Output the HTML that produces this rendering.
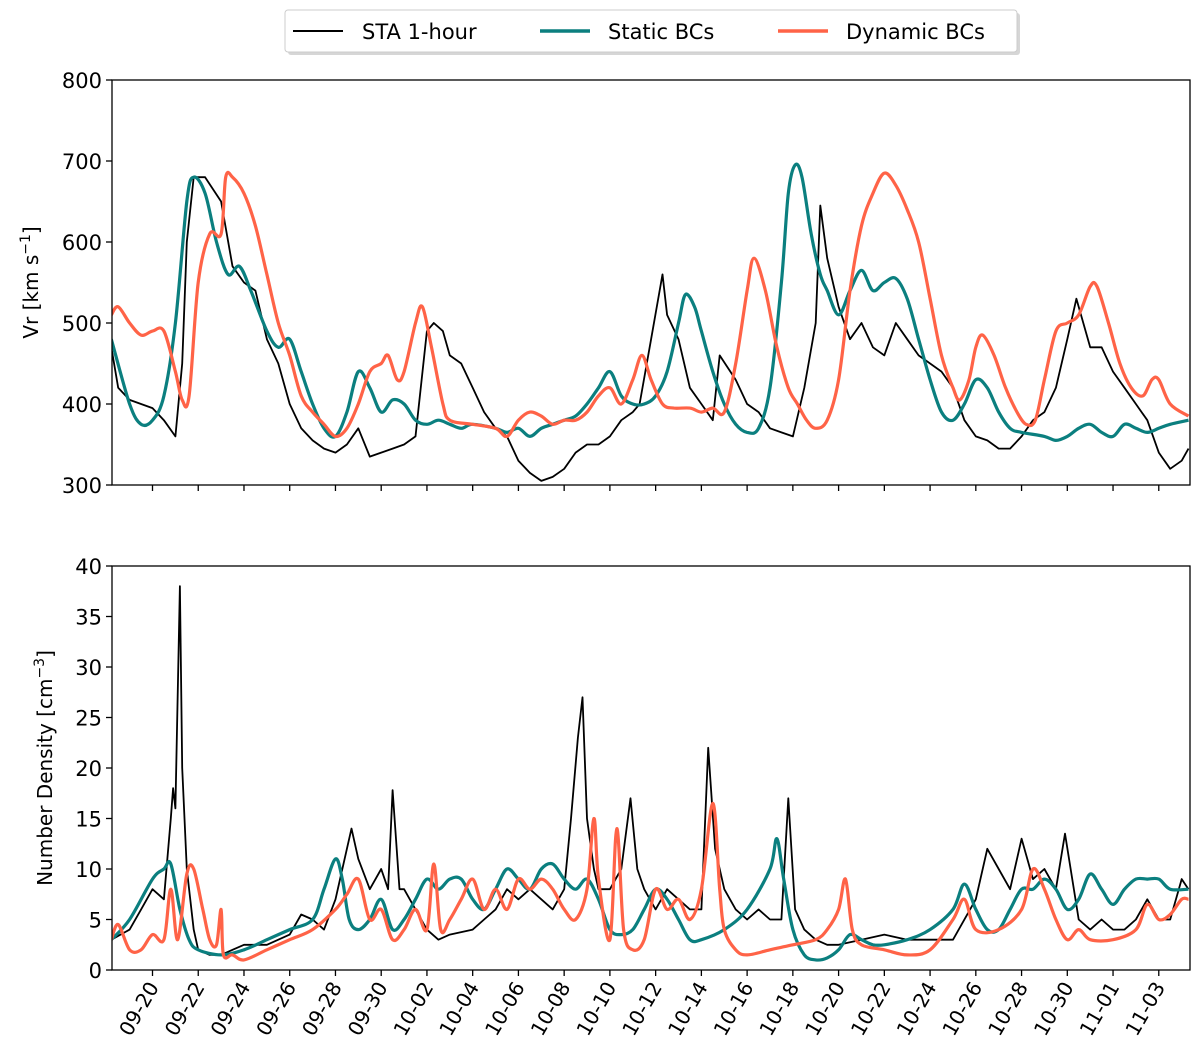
<!DOCTYPE html>
<html><head><meta charset="utf-8">
<style>
body{margin:0;background:#fff;}
svg{display:block;font-family:"DejaVu Sans","Liberation Sans",sans-serif;}
</style></head>
<body>
<svg id="chart" width="1200" height="1061" viewBox="0 0 1200 1061">
<g id="legend">
<rect x="288" y="13" width="732" height="42" rx="3" fill="#bbb" opacity="0.6"/>
<rect x="285" y="10" width="732" height="42" rx="3" fill="#fff" stroke="#ccc"/>
<g><line x1="293" y1="31" x2="343" y2="31" stroke="#000" stroke-width="2"/><text x="362" y="39" font-size="21">STA 1-hour</text></g>
<g><line x1="540" y1="31" x2="590" y2="31" stroke="#0b7f7f" stroke-width="3.5"/><text x="608" y="39" font-size="21">Static BCs</text></g>
<g><line x1="778" y1="31" x2="828" y2="31" stroke="#ff6347" stroke-width="3.5"/><text x="846" y="39" font-size="21">Dynamic BCs</text></g>
</g>
</svg>
<script>
// time in days since 09-20
const tickLabels=["09-20","09-22","09-24","09-26","09-28","09-30","10-02","10-04","10-06","10-08","10-10","10-12","10-14","10-16","10-18","10-20","10-22","10-24","10-26","10-28","10-30","11-01","11-03"];
const vrTicks=[300,400,500,600,700,800];
const ndTicks=[0,5,10,15,20,25,30,35,40];

const staVrT=[-1.8,-1.5,-1,0,0.5,1,1.3,1.5,1.8,2.3,3,3.5,4,4.5,5,5.5,6,6.5,7,7.5,8,8.5,9,9.5,10,10.5,11,11.5,12,12.3,12.7,13,13.5,14,14.5,15,15.5,16,16.5,17,17.5,18,18.5,19,19.5,20,20.5,21,21.3,21.8,22.3,22.5,23,23.5,24,24.5,24.8,25.5,26,26.5,27,27.5,28,28.5,29,29.2,29.5,30,30.5,31,31.5,32,32.5,33,33.5,34,34.5,35,35.5,36,36.5,37,37.5,38,38.5,39,39.5,40,40.4,41,41.5,42,42.5,43,43.5,44,44.5,45,45.3];
const staVr=[470,420,405,395,380,360,450,600,680,680,650,570,550,540,480,450,400,370,355,345,340,350,370,335,340,345,350,360,490,500,490,460,450,420,390,370,360,330,315,305,310,320,340,350,350,360,380,390,400,480,560,510,480,420,400,380,460,430,400,390,370,365,360,420,500,645,580,520,480,500,470,460,500,480,460,450,440,420,380,360,355,345,345,360,380,390,420,480,530,470,470,440,420,400,380,340,320,330,345];

const staticVrT=[-1.8,-1,-0.5,0,0.5,1,1.5,1.8,2.3,2.8,3.3,3.8,4.3,5,5.5,6,6.5,7,7.5,8,8.5,9,9.5,10,10.5,11,11.5,12,12.5,13,13.5,14,15,15.5,16,16.5,17,17.5,18,18.5,19,19.5,20,20.5,21,21.5,22,22.5,23,23.3,23.7,24,24.5,25,25.5,26,26.5,27,27.5,27.8,28.1,28.4,28.8,29.2,29.5,30,30.5,31,31.5,32,32.5,33,33.5,34,34.5,35,35.5,36,36.5,37,37.5,38,39,39.5,40,40.5,41,41.5,42,42.5,43,43.5,44,44.5,45.3];
const staticVr=[480,400,375,380,410,500,650,680,660,600,560,570,540,490,470,480,440,400,370,360,390,440,420,390,405,400,380,375,380,375,370,375,370,365,370,360,370,375,380,385,400,420,440,410,400,400,410,440,500,535,520,490,440,400,375,365,370,420,550,660,695,680,610,560,540,510,540,565,540,550,555,530,480,430,390,380,400,430,420,390,370,365,360,355,360,370,375,365,360,375,370,365,370,375,380];

const dynVrT=[-1.8,-1.5,-1,-0.5,0,0.5,1,1.3,1.6,2,2.5,3,3.2,3.5,4,4.5,5,5.5,6,6.5,7,7.5,8,8.5,9,9.5,10,10.3,10.7,11,11.5,11.8,12.2,12.7,13,14,15,15.5,16,16.5,17,17.5,18,18.5,19,19.5,20,20.5,21,21.4,21.8,22.3,22.8,23.5,24,24.5,25,25.5,26,26.3,26.8,27.3,27.8,28.2,28.6,29,29.5,30,30.5,31,31.5,32,32.5,33,33.5,34,34.5,35,35.3,35.7,36,36.3,36.8,37.3,37.8,38.2,38.6,39,39.5,40,40.5,41,41.3,41.8,42.3,42.8,43.3,43.7,44,44.5,45.3];
const dynVr=[510,520,500,485,490,490,440,405,410,550,610,610,680,680,660,620,560,500,460,410,390,375,360,370,400,440,450,460,430,440,500,520,470,400,380,375,370,360,380,390,385,375,380,380,390,410,420,400,430,460,430,400,395,395,390,395,390,450,540,580,540,470,420,400,380,370,380,430,540,620,660,685,670,640,600,530,460,420,405,430,470,485,460,420,390,375,380,430,490,500,510,545,545,500,450,420,410,430,430,400,385];

const staNdT=[-1.8,-1,-0.5,0,0.5,0.8,0.9,1,1.2,1.3,1.5,1.8,2,2.5,3,3.5,4,5,6,6.5,7,7.5,8,8.5,8.7,9,9.5,10,10.3,10.5,10.8,11,11.5,12,12.5,13,14,14.5,15,15.5,16,16.5,17,17.5,18,18.3,18.6,18.8,19,19.3,19.5,20,20.5,20.9,21.2,21.5,22,22.5,23,23.5,24,24.3,24.6,25,25.5,26,26.5,27,27.5,27.8,28.1,28.5,29,29.5,30,31,32,33,34,35,36,36.5,37,37.5,38,38.5,39,39.5,39.9,40.5,41,41.5,42,42.5,43,43.5,44,44.5,45,45.3];
const staNd=[3,4,6,8,7,15,18,16,38,20,10,4,2,1.5,1.5,2,2.5,2.5,3.5,5.5,5,4,7,12,14,11,8,10,8,17.8,8,8,6,4,3,3.5,4,5,6,8,7,8,7,6,8,15,23,27,15,10,8,8,10,17,10,8,6,8,7,6,6,22,12,8,6,5,6,5,5,17,6,4,3,2.5,2.5,3,3.5,3,3,3,7,12,10,8,13,9,10,8,13.5,5,4,5,4,4,5,7,5,5,9,8];

const staticNdT=[-1.8,-1,0,0.5,0.8,1.2,1.6,2,3,4,5,6,7,7.5,8,8.3,8.6,9,9.5,10,10.5,11,11.5,12,12.5,13,13.5,14,14.5,15,15.5,16,16.5,17,17.5,18,18.5,19,19.5,20,20.5,21,21.5,22,22.5,23,23.5,24,25,26,27,27.3,27.6,28,28.5,29,29.5,30,30.5,31,31.5,32,33,34,35,35.5,36,36.5,37,37.5,38,38.5,39,39.5,40,40.5,41,41.5,42,42.5,43,43.5,44,44.5,45.3];
const staticNd=[3,5,9,10,10.5,6,3,2,1.5,2,3,4,5,8,11,9,5,4,5,7,4,5,7,9,8,9,9,7,6,8,10,9,8,10,10.5,9,8,9,7,4,3.5,4,6,8,7,5,3,3,4,6,10,13,9,4,1.5,1,1.2,2,3.5,3,2.5,2.5,3,4,6,8.5,6,4,4,6,8,8,9,8,6,7,9.5,8,6.5,8,9,9,9,8,8];

const dynNdT=[-1.8,-1.5,-1,-0.5,0,0.5,0.8,1.1,1.5,1.8,2.2,2.5,2.8,3,3.1,3.5,4,5,6,7,8,8.5,9,9.5,10,10.5,11,11.5,12,12.3,12.6,13,13.5,14,14.5,15,15.5,16,16.5,17,17.5,18,18.5,19,19.3,19.5,20,20.3,20.6,21,21.5,22,22.5,23,23.5,24,24.5,24.8,25,25.5,26,27,28,29,29.5,30,30.3,30.6,31,32,33,34,35,35.5,36,37,38,38.5,39,39.5,40,40.5,41,42,43,43.5,44,44.5,45,45.3];
const dynNd=[3,4.5,2,2,3.5,3,8,3,9.5,10,6,3,2.5,6,1.5,1.5,1,2,3,4,6,7.5,9,5,6,3,4,6,4,10.5,4,5,7,9,6,8,6,9,8,9,8,6,5,8,15,9,3,14,4,2,3,8,6,7,5,8,16.5,8,4,2,1.5,2,2.5,3,4,6,9,4,2.5,2,1.5,2,5,7,4,4,6,10,8,5,3,4,3,3,4,6.5,5,5.5,7,7];

const NS="http://www.w3.org/2000/svg";
const svg=document.getElementById('chart');
const X0=112,X1=1190;
const xScale=t=>152.5+t*22.87;
const topY=v=>485-(v-300)*(405/500);
const botY=v=>970-v*(404/40);
function mk(tag,attrs,parent){const e=document.createElementNS(NS,tag);for(const k in attrs)e.setAttribute(k,attrs[k]);(parent||svg).appendChild(e);return e;}
function linePath(ts,vs,ys,smooth){
  const p=ts.map((t,i)=>[xScale(t),ys(vs[i])]);
  let d='M'+p[0][0].toFixed(1)+','+p[0][1].toFixed(1);
  for(let i=1;i<p.length;i++){
    if(!smooth){d+='L'+p[i][0].toFixed(1)+','+p[i][1].toFixed(1);continue;}
    const p0=p[i-2]||p[i-1],p1=p[i-1],p2=p[i],p3=p[i+1]||p[i];
    const c1=[p1[0]+(p2[0]-p0[0])/6,p1[1]+(p2[1]-p0[1])/6];
    const c2=[p2[0]-(p3[0]-p1[0])/6,p2[1]-(p3[1]-p1[1])/6];
    d+='C'+c1[0].toFixed(1)+','+c1[1].toFixed(1)+' '+c2[0].toFixed(1)+','+c2[1].toFixed(1)+' '+p2[0].toFixed(1)+','+p2[1].toFixed(1);
  }
  return d;
}
function panel(name,yTop,yBot,ys,ticks,ylabel,ylx,series,showLabels){
  const g=mk('g',{});
  
  
  const cid='clip-'+name;
  const cp=mk('clipPath',{id:cid},g);
  mk('rect',{x:X0,y:yTop,width:X1-X0,height:yBot-yTop},cp);
  const sg=mk('g',{'clip-path':'url(#'+cid+')'},g);
  series.forEach(s=>{
    const p=mk('path',{d:linePath(s.t,s.v,ys,s.smooth),fill:'none',stroke:s.color,'stroke-width':s.w,'stroke-linejoin':'round'},sg);
    
    
  });
  const frame=mk('rect',{x:X0,y:yTop,width:X1-X0,height:yBot-yTop,fill:'none',stroke:'#000','stroke-width':1.3},g);
  
  
  ticks.forEach(v=>{
    const y=ys(v);
    mk('line',{x1:X0-6,x2:X0,y1:y,y2:y,stroke:'#000','stroke-width':1.3},g);
    const tx=mk('text',{x:X0-10,y:y+8,'font-size':21,'text-anchor':'end'},g);
    tx.textContent=v;
    
    
  });
  tickLabels.forEach((lab,i)=>{
    const x=xScale(i*2);
    mk('line',{x1:x,x2:x,y1:yBot,y2:yBot+6,stroke:'#000','stroke-width':1.3},g);
    if(showLabels){
      const tx=mk('text',{x:0,y:0,'font-size':20,'text-anchor':'end',transform:'translate('+(x+7)+','+(yBot+17)+') rotate(-60)'},g);
      tx.textContent=lab;
      
      
    }
  });
  const yl=mk('text',{x:0,y:0,'font-size':20,'text-anchor':'middle',transform:'translate('+ylx+','+((yTop+yBot)/2)+') rotate(-90)'},g);
  yl.innerHTML=ylabel;
  
  
}
panel('velocity',80,485,topY,vrTicks,'Vr [km s<tspan dy="-8" font-size="14">−1</tspan><tspan dy="8">]</tspan>',38,[
 {name:'sta',t:staVrT,v:staVr,color:'#000',w:1.8,smooth:false},
 {name:'static',t:staticVrT,v:staticVr,color:'#0b7f7f',w:3.2,smooth:true},
 {name:'dynamic',t:dynVrT,v:dynVr,color:'#ff6347',w:3.2,smooth:true}],false);
panel('density',566,970,botY,ndTicks,'Number Density [cm<tspan dy="-8" font-size="14">−3</tspan><tspan dy="8">]</tspan>',52,[
 {name:'sta',t:staNdT,v:staNd,color:'#000',w:1.8,smooth:false},
 {name:'static',t:staticNdT,v:staticNd,color:'#0b7f7f',w:3.2,smooth:true},
 {name:'dynamic',t:dynNdT,v:dynNd,color:'#ff6347',w:3.2,smooth:true}],true);
svg.appendChild(document.getElementById('legend'));
</script>
</body></html>
